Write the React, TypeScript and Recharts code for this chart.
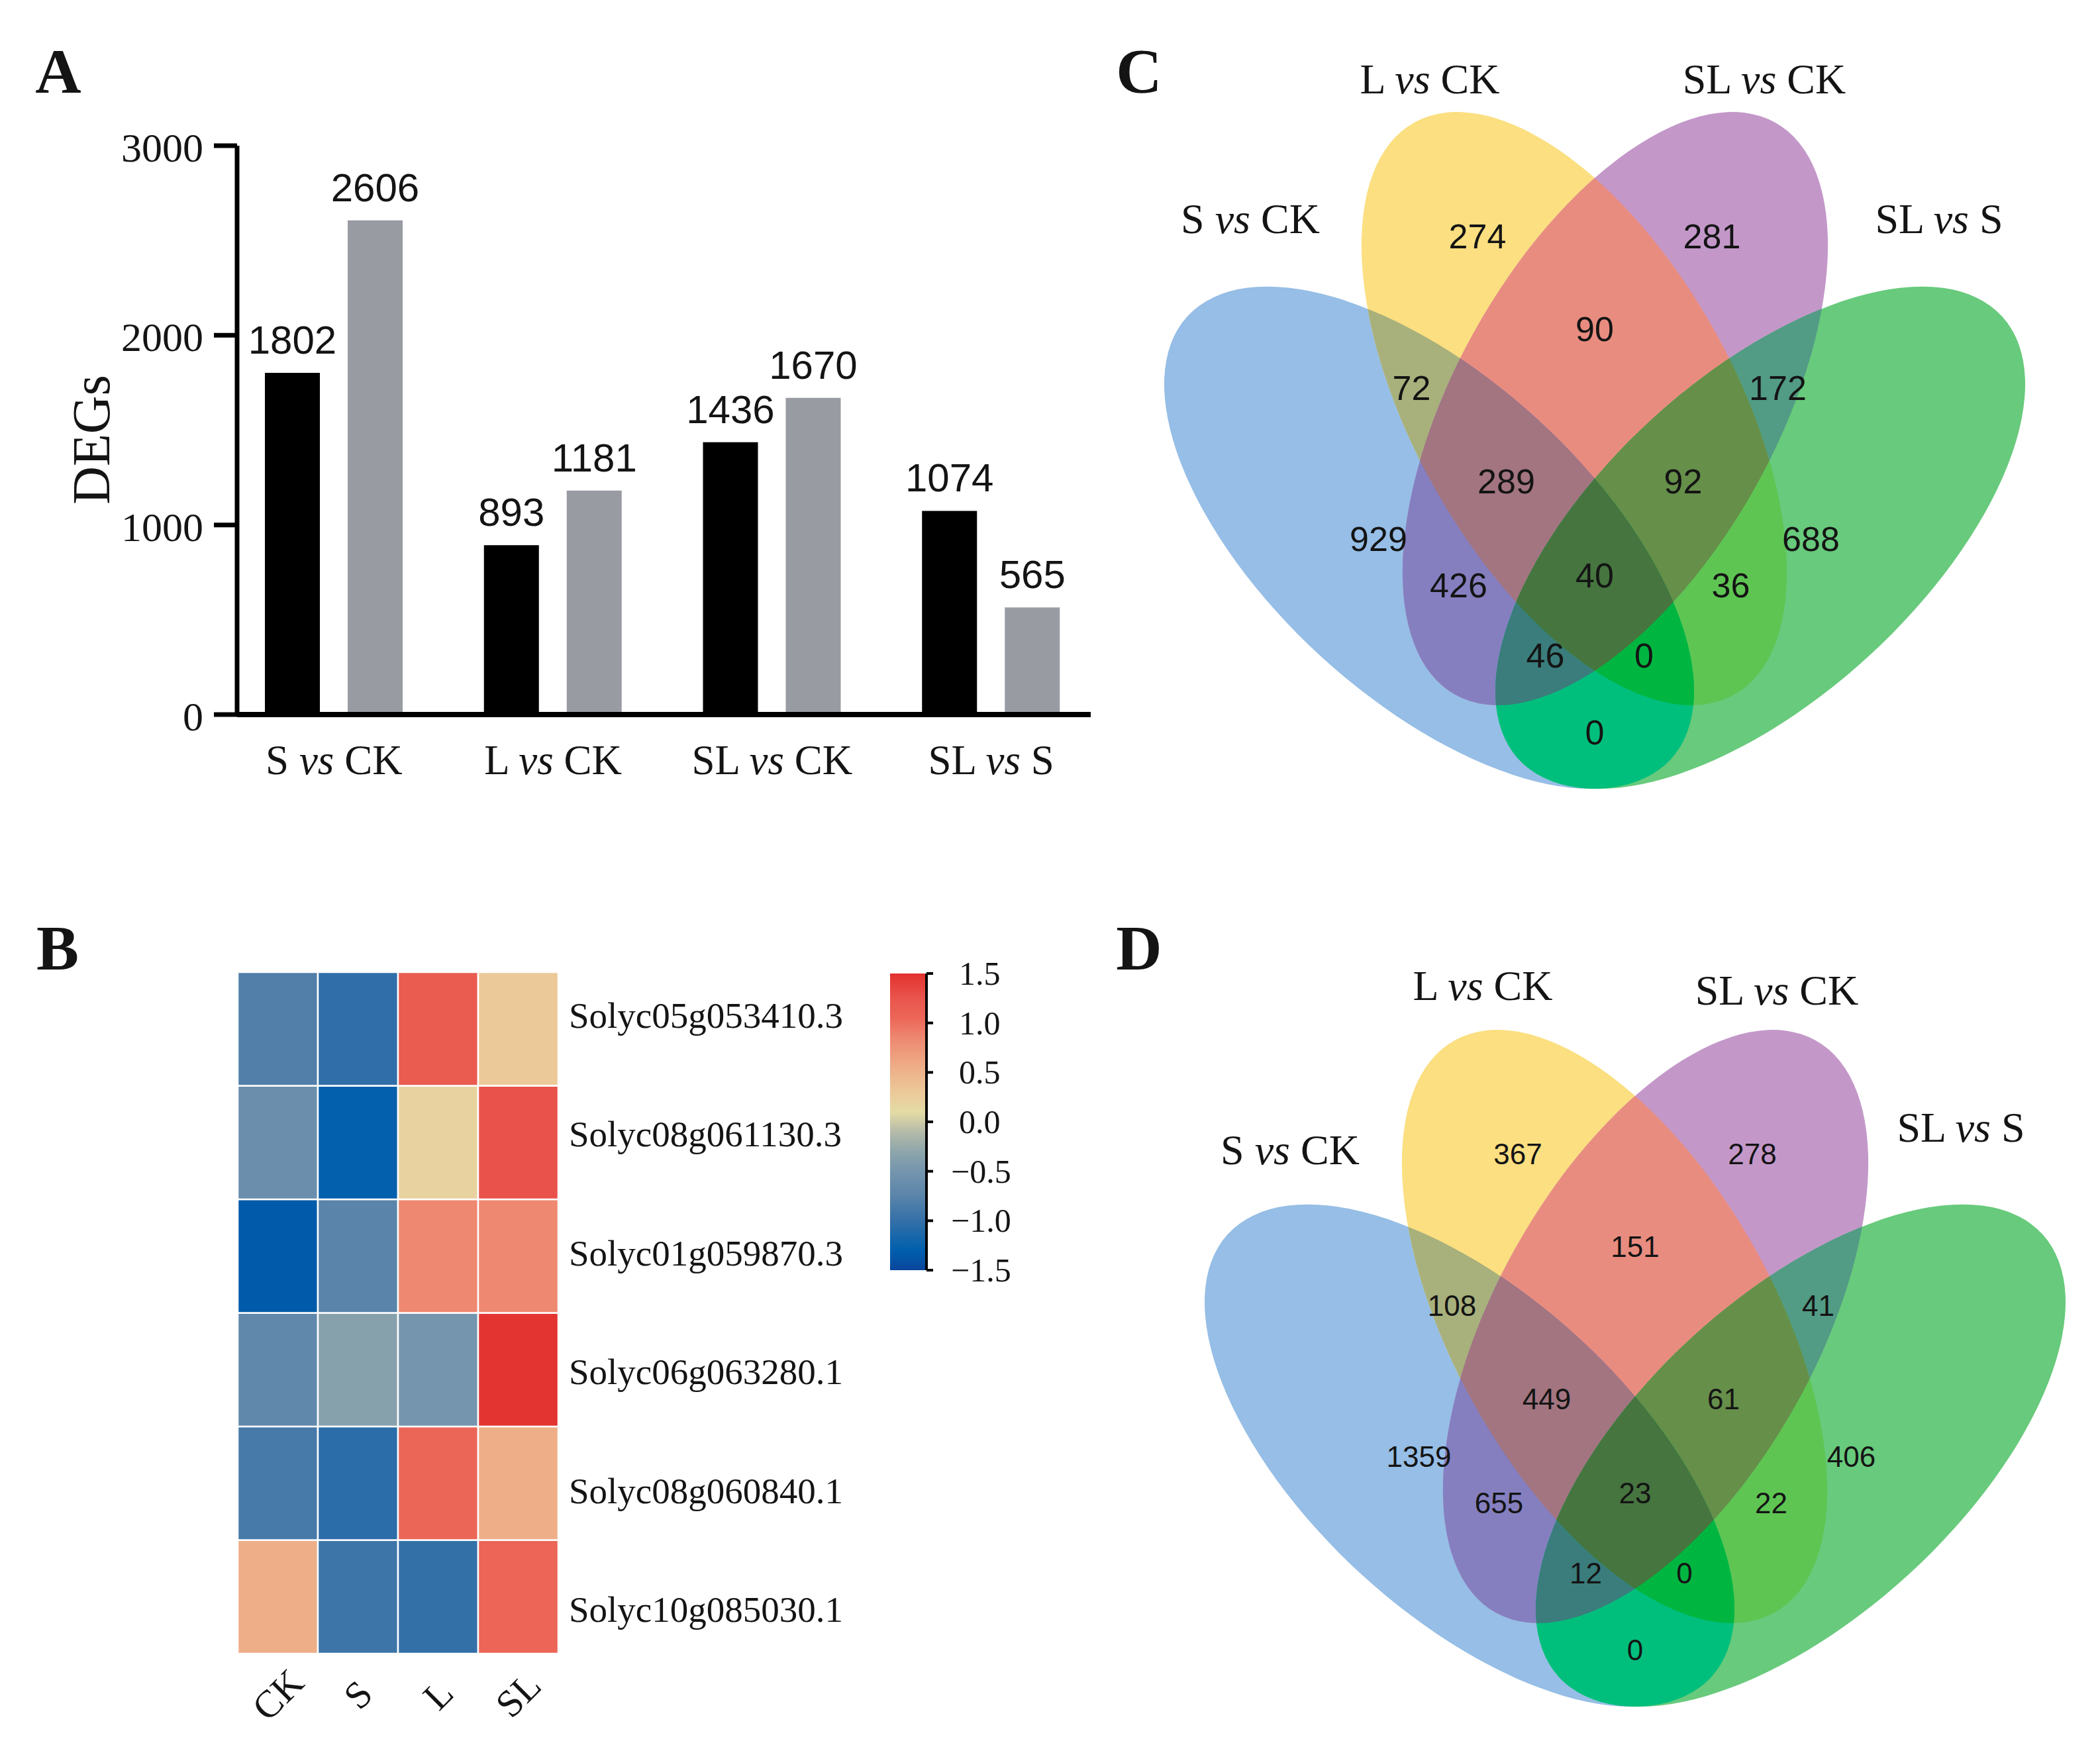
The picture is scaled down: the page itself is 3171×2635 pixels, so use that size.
import React from 'react';
import { BarChart, Bar, XAxis, YAxis, LabelList, Cell, ScatterChart, Scatter, Label } from 'recharts';

const SERIF = '"Liberation Serif", "Times New Roman", serif';
const SANS = '"Liberation Sans", Arial, sans-serif';
const INK = '#141414';

// ---------- Panel A: DEG counts ----------
const comparisons = ['S vs CK', 'L vs CK', 'SL vs CK', 'SL vs S'];
const upDEGs = [1802, 893, 1436, 1074];
const downDEGs = [2606, 1181, 1670, 565];
const degTicks = [0, 1000, 2000, 3000];

// ---------- Panel B: heatmap ----------
const genes = [
  'Solyc05g053410.3',
  'Solyc08g061130.3',
  'Solyc01g059870.3',
  'Solyc06g063280.1',
  'Solyc08g060840.1',
  'Solyc10g085030.1',
];
const samples = ['CK', 'S', 'L', 'SL'];
const zCK = [-0.81, -0.6, -1.33, -0.69, -0.87, 0.55];
const zS = [-1.03, -1.28, -0.75, -0.36, -1.05, -0.94];
const zL = [1.18, 0.19, 0.85, -0.5, 1.05, -1.0];
const zSL = [0.3, 1.27, 0.85, 1.48, 0.55, 1.06];
const colorbarTicks = [-1.5, -1, -0.5, 0, 0.5, 1, 1.5];
const colorStopValues = [-1.5, -1.3, -1.0, -0.75, -0.5, -0.3, -0.1, 0.1, 0.3, 0.55, 0.85, 1.05, 1.25, 1.5];
const colorStopHex = ['#0a459c', '#005fad', '#3470a8', '#5a84aa', '#7595ae', '#8ea6ab', '#b5bba9', '#e4dba5', '#ecc999', '#eeae88', '#ee8870', '#ec6658', '#e9554c', '#e3312f'];

// ---------- Panels C/D: Venn diagrams ----------
const vennSets = ['S vs CK', 'L vs CK', 'SL vs CK', 'SL vs S'];
// region code: bit0 S vs CK, bit1 L vs CK, bit2 SL vs CK, bit3 SL vs S
const vennRegionCodes = [1, 2, 4, 8, 3, 6, 12, 5, 10, 9, 7, 14, 13, 11, 15];
const vennRegionU = [0.3388, 0.4584, 0.7416, 0.8612, 0.3788, 0.6, 0.8212, 0.4356, 0.7644, 0.6, 0.4932, 0.7068, 0.5404, 0.6596, 0.6];
const vennRegionV = [0.3736, 0.7392, 0.7392, 0.3736, 0.556, 0.6272, 0.556, 0.3176, 0.3176, 0.14, 0.4432, 0.4432, 0.2328, 0.2328, 0.3296];
const upRegionCounts = [929, 274, 281, 688, 72, 90, 172, 426, 36, 0, 289, 92, 46, 0, 40];
const downRegionCounts = [1359, 367, 278, 406, 108, 151, 41, 655, 22, 0, 449, 61, 12, 0, 23];
const vennRegionColors = ['#96bee6', '#fbdf80', '#c398c9', '#68ca7c', '#a8b07c', '#e98c80', '#529b85', '#857fc0', '#5ec553', '#00bf7d', '#a27580', '#668f4a', '#3a7d7c', '#00b640', '#46753f'];
const ellipseCenterU = [0.4, 0.5752, 0.6248, 0.8];
const ellipseCenterV = [0.3744, 0.5304, 0.5304, 0.3744];
const ellipseSemiMajor = [0.396, 0.396, 0.396, 0.396];
const ellipseSemiMinor = [0.194, 0.194, 0.194, 0.194];
const ellipseAngleDeg = [-42.5, -60.8, 60.8, 42.5];
const upSetLabelU = [0.184, 0.4008, 0.8048, 1.016];
const upSetLabelV = [0.7592, 0.928, 0.928, 0.7592];
const downSetLabelU = [0.1832, 0.416, 0.7712, 0.9936];
const downSetLabelV = [0.7432, 0.9416, 0.936, 0.7704];

// ---------- helpers ----------
const hexToRgb = (h: string) => {
  const n = parseInt(h.slice(1), 16);
  return [(n >> 16) & 255, (n >> 8) & 255, n & 255];
};
const zColor = (z: number) => {
  const v = Math.max(colorStopValues[0], Math.min(colorStopValues[colorStopValues.length - 1], z));
  for (let i = 0; i < colorStopValues.length - 1; i++) {
    const v0 = colorStopValues[i];
    const v1 = colorStopValues[i + 1];
    if (v >= v0 && v <= v1) {
      const t = (v - v0) / (v1 - v0);
      const c0 = hexToRgb(colorStopHex[i]);
      const c1 = hexToRgb(colorStopHex[i + 1]);
      const c = c0.map((c0v, k) => Math.round(c0v + (c1[k] - c0v) * t));
      return `rgb(${c[0]},${c[1]},${c[2]})`;
    }
  }
  return colorStopHex[colorStopHex.length - 1];
};

const VsText = ({ x, y, text, fontSize, anchor = 'middle', transform }: any) => {
  const parts = String(text).split(' vs ');
  return (
    <text x={x} y={y} textAnchor={anchor} fontFamily={SERIF} fontSize={fontSize} fill={INK} transform={transform}>
      {parts[0] + ' '}
      <tspan fontStyle="italic">vs</tspan>
      {' ' + parts[1]}
    </text>
  );
};

// ---------- Panel A ----------
const barData = comparisons.map((c, i) => ({ name: c, up: upDEGs[i], down: downDEGs[i] }));

const renderDegTick = (p: any) => (
  <text x={p.x} y={p.y + 24} textAnchor="end" fontFamily={SERIF} fontSize={62} fill={INK}>
    {p.payload.value}
  </text>
);
const renderCompTick = (p: any) => <VsText x={p.x} y={p.y + 90} text={p.payload.value} fontSize={63} />;
const renderBarValue = (p: any) => {
  const vb = p.viewBox || p;
  const x = vb.x + vb.width / 2;
  return (
    <text x={x} y={vb.y - 29} textAnchor="middle" fontFamily={SANS} fontSize={60} fill={INK}>
      {p.value}
    </text>
  );
};
const renderDegsTitle = () => {
  const X = 165;
  const Y = 664;
  return (
    <text x={X} y={Y} transform={`rotate(-90, ${X}, ${Y})`} textAnchor="middle" fontFamily={SERIF} fontSize={80} fill={INK}>
      DEGs
    </text>
  );
};

const PanelA = () => (
  <div style={{ position: 'absolute', left: 0, top: 0 }}>
    <BarChart width={1700} height={1300} data={barData} margin={{ top: 220, left: 357, right: 53, bottom: 220 }} barGap={42}>
      <XAxis
        dataKey="name"
        height={1}
        interval={0}
        axisLine={{ stroke: '#000', strokeWidth: 8 }}
        tickLine={false}
        tickSize={0}
        tickMargin={0}
        tick={renderCompTick}
        padding={{ left: -19, right: -15 }}
      />
      <YAxis
        width={1}
        type="number"
        domain={[0, 3000]}
        ticks={degTicks}
        allowDataOverflow
        axisLine={{ stroke: '#000', strokeWidth: 7 }}
        tickLine={{ stroke: '#000', strokeWidth: 7 }}
        tickSize={35}
        tickMargin={16}
        tick={renderDegTick}
        label={<Label content={renderDegsTitle} />}
      />
      <Bar dataKey="up" fill="#000000" barSize={83} isAnimationActive={false}>
        <LabelList dataKey="up" content={renderBarValue} />
      </Bar>
      <Bar dataKey="down" fill="#999ba3" barSize={83} isAnimationActive={false}>
        <LabelList dataKey="down" content={renderBarValue} />
      </Bar>
    </BarChart>
  </div>
);

// ---------- Panel B ----------
const zBySample = [zCK, zS, zL, zSL];
const heatRows = samples.map((s, j) => {
  const row: Record<string, any> = { sample: s };
  genes.forEach((_, i) => {
    row[`cell${i}`] = 1;
    row[`z${i}`] = zBySample[j][i];
  });
  return row;
});
const geneTickValues = genes.map((_, i) => genes.length - 0.5 - i);

const renderGeneTick = (p: any) => {
  const idx = Math.round(genes.length - 0.5 - p.payload.value);
  // the row names in the original are spaced slightly wider than the rows
  const spread = (idx - (genes.length - 1) / 2) * 8;
  return (
    <text x={p.x} y={p.y + 18 + spread} textAnchor="start" fontFamily={SERIF} fontSize={55} fill={INK}>
      {genes[idx]}
    </text>
  );
};
const renderSampleTick = (p: any) => {
  const cx = p.x;
  const cy = p.y + 62;
  return (
    <text
      x={cx}
      y={cy}
      textAnchor="middle"
      dominantBaseline="central"
      transform={`rotate(-45, ${cx}, ${cy})`}
      fontFamily={SERIF}
      fontSize={58}
      fill={INK}
    >
      {p.payload.value}
    </text>
  );
};

const PanelBHeat = () => (
  <div style={{ position: 'absolute', left: 0, top: 1300 }}>
    <BarChart width={1300} height={1335} data={heatRows} margin={{ top: 168, left: 359, right: 456, bottom: 137 }} barCategoryGap={0} barGap={0}>
      <XAxis dataKey="sample" height={1} interval={0} axisLine={false} tickLine={false} tickSize={0} tickMargin={0} tick={renderSampleTick} />
      <YAxis
        orientation="right"
        width={1}
        type="number"
        domain={[0, genes.length]}
        allowDataOverflow
        ticks={geneTickValues}
        axisLine={false}
        tickLine={false}
        tickSize={0}
        tickMargin={16}
        tick={renderGeneTick}
      />
      {genes
        .map((_, i) => i)
        .reverse()
        .map((i) => (
          <Bar key={i} dataKey={`cell${i}`} stackId="heat" stroke="#ffffff" strokeWidth={2.5} isAnimationActive={false}>
            {heatRows.map((row, j) => (
              <Cell key={j} fill={zColor(row[`z${i}`])} />
            ))}
          </Bar>
        ))}
    </BarChart>
  </div>
);

const colorbarData = [{ name: 'z-score', range: [colorbarTicks[0], colorbarTicks[colorbarTicks.length - 1]] }];
const renderColorTick = (p: any) => {
  const v = p.payload.value as number;
  const txt = (v < 0 ? '\u2212' : '') + Math.abs(v).toFixed(1);
  return (
    <text x={p.x + (v < 0 ? 0 : 12)} y={p.y + 17} textAnchor="start" fontFamily={SERIF} fontSize={50} fill={INK}>
      {txt}
    </text>
  );
};

const PanelBColorbar = () => (
  <div style={{ position: 'absolute', left: 1300, top: 1400 }}>
    <BarChart width={300} height={600} data={colorbarData} margin={{ top: 70, left: 44, right: 200, bottom: 82 }} barCategoryGap={0} barGap={0}>
      <defs>
        <linearGradient id="heatGrad" x1="0" y1="0" x2="0" y2="1">
          {colorStopValues
            .map((v, i) => ({ v, c: colorStopHex[i] }))
            .reverse()
            .map((s, i) => (
              <stop key={i} offset={`${((1.5 - s.v) / 3) * 100}%`} stopColor={s.c} />
            ))}
        </linearGradient>
      </defs>
      <XAxis dataKey="name" hide height={1} />
      <YAxis
        orientation="right"
        width={1}
        type="number"
        domain={[-1.5, 1.5]}
        allowDataOverflow
        ticks={colorbarTicks}
        axisLine={{ stroke: '#000', strokeWidth: 4 }}
        tickLine={{ stroke: '#000', strokeWidth: 4 }}
        tickSize={10}
        tickMargin={27}
        tick={renderColorTick}
      />
      <Bar dataKey="range" fill="url(#heatGrad)" isAnimationActive={false} />
    </BarChart>
  </div>
);

// ---------- Panels C/D ----------
const ellipsePoints = ellipseCenterU.flatMap((cu, i) => {
  const cv = ellipseCenterV[i];
  const t = (ellipseAngleDeg[i] * Math.PI) / 180;
  const a = ellipseSemiMajor[i];
  const b = ellipseSemiMinor[i];
  return [
    { x: cu, y: cv },
    { x: cu + a * Math.cos(t), y: cv + a * Math.sin(t) },
    { x: cu - b * Math.sin(t), y: cv + b * Math.cos(t) },
  ];
});

const makeRegionLayer = (prefix: string) => (lineProps: any) => {
  const pts = (lineProps && lineProps.points) || [];
  if (pts.length < 12) return <g />;
  const mats = [0, 1, 2, 3].map((i) => {
    const c = pts[3 * i];
    const a = pts[3 * i + 1];
    const b = pts[3 * i + 2];
    return `matrix(${a.x - c.x},${a.y - c.y},${b.x - c.x},${b.y - c.y},${c.x},${c.y})`;
  });
  return (
    <g>
      <defs>
        {mats.map((m, i) => (
          <clipPath id={`${prefix}-clip-${i}`} key={i} clipPathUnits="userSpaceOnUse">
            <ellipse cx={0} cy={0} rx={1} ry={1} transform={m} />
          </clipPath>
        ))}
      </defs>
      {vennRegionCodes.map((code, k) => {
        let node: any = <rect x={-2000} y={-2000} width={6000} height={6000} fill={vennRegionColors[k]} />;
        for (let i = 3; i >= 0; i--) {
          if (code & (1 << i)) node = <g clipPath={`url(#${prefix}-clip-${i})`}>{node}</g>;
        }
        return <g key={code}>{node}</g>;
      })}
    </g>
  );
};

const emptyShape = () => <g />;
const makeNumberShape = (fs: number) => (p: any) => (
  <text x={p.cx} y={p.cy + fs * 0.358} textAnchor="middle" fontFamily={SANS} fontSize={fs} fill={INK}>
    {p.payload.label}
  </text>
);
const setLabelShape = (p: any) => <VsText x={p.cx} y={p.cy + 21} text={p.payload.label} fontSize={64} />;

const VennPanel = ({ left, top, counts, labelU, labelV, numFont, prefix }: any) => {
  const numberData = vennRegionCodes.map((_, k) => ({ x: vennRegionU[k], y: vennRegionV[k], label: counts[k] }));
  const setData = vennSets.map((s, i) => ({ x: labelU[i], y: labelV[i], label: s }));
  return (
    <div style={{ position: 'absolute', left, top }}>
      <ScatterChart width={1500} height={1250} margin={{ top: 0, right: 0, bottom: 0, left: 0 }}>
        <XAxis type="number" dataKey="x" domain={[0, 1.2]} allowDataOverflow hide height={0} />
        <YAxis type="number" dataKey="y" domain={[0, 1]} allowDataOverflow hide width={0} />
        <Scatter data={ellipsePoints} line={makeRegionLayer(prefix)} shape={emptyShape} fill="none" isAnimationActive={false} />
        <Scatter data={numberData} shape={makeNumberShape(numFont)} isAnimationActive={false} />
        <Scatter data={setData} shape={setLabelShape} isAnimationActive={false} />
      </ScatterChart>
    </div>
  );
};

const panelLetters = [
  { t: 'A', x: 88, y: 140 },
  { t: 'B', x: 87, y: 1464 },
  { t: 'C', x: 1720, y: 140 },
  { t: 'D', x: 1720, y: 1464 },
];

export default function App() {
  return (
    <div style={{ position: 'absolute', left: 0, top: 0, width: 3171, height: 2635, overflow: 'hidden', background: '#fff' }}>
      <PanelA />
      <PanelBHeat />
      <PanelBColorbar />
      <VennPanel left={1658} top={30} counts={upRegionCounts} labelU={upSetLabelU} labelV={upSetLabelV} numFont={52} prefix="vennUp" />
      <VennPanel left={1719} top={1416} counts={downRegionCounts} labelU={downSetLabelU} labelV={downSetLabelV} numFont={44} prefix="vennDown" />
      <svg width={3171} height={2635} style={{ position: 'absolute', left: 0, top: 0, pointerEvents: 'none' }}>
        {panelLetters.map((l) => (
          <text key={l.t} x={l.x} y={l.y} textAnchor="middle" fontFamily={SERIF} fontWeight="bold" fontSize={96} fill={INK}>
            {l.t}
          </text>
        ))}
      </svg>
    </div>
  );
}
